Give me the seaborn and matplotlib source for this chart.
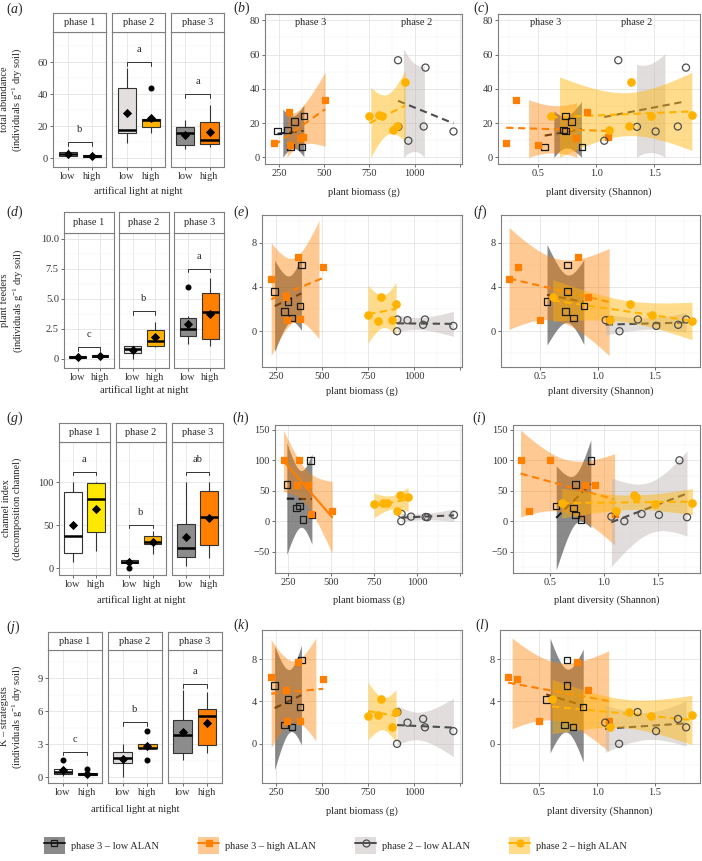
"""
ALAN x soil fauna: box plots per phase (left) and regressions on plant biomass / diversity.
"""

import numpy as np
import pandas as pd
import matplotlib
matplotlib.use("Agg")
import matplotlib.pyplot as plt
from matplotlib.lines import Line2D
from matplotlib.patches import Patch
import seaborn as sns

NA = np.nan
W, H = 702, 861

# ---------------------------------------------------------------- data
alan_levels = ["low", "high"]
phase_names = ["phase 1", "phase 2", "phase 3"]

# phase 1 : box plots only
p1_low_total = [0.8, 1.5, 2.2, 3.0, 4.6, 6.0]
p1_high_total = [0.6, 1.0, 1.4, 1.6, 2.0, 2.6]
p1_low_feeders = [0.0, 0.05, 0.1, 0.15, 0.2, 0.3]
p1_high_feeders = [0.1, 0.15, 0.2, 0.25, 0.3, 0.4]
p1_low_channel = [7, 15, 24, 52, 100, 100]
p1_high_channel = [20, 35, 64, 96, 100, 100]
p1_low_kstrat = [0.1, 0.3, 0.45, 0.5, 0.8, 1.55]
p1_high_kstrat = [0.0, 0.2, 0.25, 0.3, 0.4, 0.75]

# phase 2 / phase 3 : box plots and regressions
p2_low_biomass = [965, 908, 910, 1215, 1050, 1060]
p2_low_diversity = [1.07, 1.19, 1.35, 1.51, 1.70, 1.77]
p2_low_total = [9.7, 56.7, 17.8, 15.1, 18.0, 52.4]
p2_low_feeders = [1.0, 0.0, 1.06, 0.48, 0.58, 1.06]
p2_low_channel = [7.6, 0.0, 12.0, 10.4, 7.0, 6.6]
p2_low_channel_div = [7.6, 0.0, 12.0, 10.4, 100.0, 6.6]   # as plotted in panel (i)
p2_low_kstrat = [2.0, 0.0, 3.0, 1.2, 2.35, 1.56]

p2_high_biomass = [822, 882, 903, 948, 750, 803]
p2_high_diversity = [0.61, 1.11, 1.28, 1.30, 1.47, 1.82]
p2_high_total = [23.9, 15.8, 18.4, 44.2, 24.3, 24.6]
p2_high_feeders = [3.06, 1.06, 2.42, NA, 1.45, 0.97]
p2_high_channel = [30.6, 16.0, 43.0, 39.0, 28.0, 29.5]
p2_high_kstrat = [4.25, 1.6, 3.0, NA, 2.66, 2.7]

p3_low_biomass = [241, 296, 314, 336, 378, 387]
p3_low_diversity = [0.74, 0.72, 0.56, 0.79, 0.88, 0.74]
p3_low_total = [15.5, 16.0, 6.0, 21.0, 6.0, 24.0]
p3_low_feeders = [3.6, 1.8, 2.7, 1.2, 2.3, 6.0]
p3_low_channel = [60, 22, 25, 3, 100, 10]
p3_low_kstrat = [5.5, 1.8, 4.2, 1.6, 3.5, 7.9]

p3_high_biomass = [222, 303, 310, 367, 380, 505]
p3_high_diversity = [0.23, 0.92, 0.50, 0.83, 1.10, 0.31]
p3_high_total = [8.3, 26.3, 7.0, 11.3, 11.8, 33.6]
p3_high_feeders = [4.7, 3.06, 1.06, 6.7, 1.15, 5.8]
p3_high_channel = [100, 59, 100, 60, 11.5, 17]
p3_high_kstrat = [6.3, 5.1, 2.2, 7.75, 2.2, 6.1]

# letters of the post-hoc test and bracket heights
sig_letters = {"total": ["b", "a", "a"], "feeders": ["c", "b", "a"],
               "channel": ["a", "b", "ab"], "kstrat": ["c", "b", "a"]}
sig_heights = {"total": [10, 60, 40], "feeders": [0.95, 3.95, 7.5],
               "channel": [112, 50, 112], "kstrat": [2.33, 5.0, 8.45]}

resp_keys = ["total", "feeders", "channel", "kstrat"]

box_data = {
    "total": {"phase 1": (p1_low_total, p1_high_total), "phase 2": (p2_low_total, p2_high_total),
              "phase 3": (p3_low_total, p3_high_total)},
    "feeders": {"phase 1": (p1_low_feeders, p1_high_feeders), "phase 2": (p2_low_feeders, p2_high_feeders),
                "phase 3": (p3_low_feeders, p3_high_feeders)},
    "channel": {"phase 1": (p1_low_channel, p1_high_channel), "phase 2": (p2_low_channel, p2_high_channel),
                "phase 3": (p3_low_channel, p3_high_channel)},
    "kstrat": {"phase 1": (p1_low_kstrat, p1_high_kstrat), "phase 2": (p2_low_kstrat, p2_high_kstrat),
               "phase 3": (p3_low_kstrat, p3_high_kstrat)},
}

group_order = ["p3_low", "p3_high", "p2_low", "p2_high"]
scatter_x = {
    "biomass": {"p3_low": p3_low_biomass, "p3_high": p3_high_biomass,
                "p2_low": p2_low_biomass, "p2_high": p2_high_biomass},
    "diversity": {"p3_low": p3_low_diversity, "p3_high": p3_high_diversity,
                  "p2_low": p2_low_diversity, "p2_high": p2_high_diversity},
}
scatter_y = {
    "total": {"p3_low": p3_low_total, "p3_high": p3_high_total, "p2_low": p2_low_total, "p2_high": p2_high_total},
    "feeders": {"p3_low": p3_low_feeders, "p3_high": p3_high_feeders, "p2_low": p2_low_feeders,
                "p2_high": p2_high_feeders},
    "channel": {"p3_low": p3_low_channel, "p3_high": p3_high_channel, "p2_low": p2_low_channel,
                "p2_high": p2_high_channel},
    "kstrat": {"p3_low": p3_low_kstrat, "p3_high": p3_high_kstrat, "p2_low": p2_low_kstrat,
               "p2_high": p2_high_kstrat},
}

# ---------------------------------------------------------------- style
sns.set_theme(style="white")
plt.rcParams.update({
    "font.family": ["Liberation Serif", "DejaVu Serif"],
    "mathtext.fontset": "custom",
    "mathtext.rm": "Liberation Serif",
    "mathtext.it": "Liberation Serif:italic",
    "mathtext.bf": "Liberation Serif:bold",
    "font.size": 7.5,
    "axes.unicode_minus": True,
})

BORDER = "#7f7f7f"
FS = 7.5

box_colours = {"phase 1": ["#FFFFFF", "#FFE800"], "phase 2": ["#E4DFDF", "#FFB300"],
               "phase 3": ["#8C8C8C", "#FF7F00"]}

STYLE = {
    "p3_low": dict(marker="s", face="none", edge="#1a1a1a", line="#1a1a1a", band="#3c3c3c", alpha=0.6,
                   s=22, label="phase 3 – low ALAN"),
    "p3_high": dict(marker="s", face="#FF7F00", edge="#FF7F00", line="#FF7F00", band="#FF7F00", alpha=0.42,
                    s=22, label="phase 3 – high ALAN"),
    "p2_low": dict(marker="o", face="none", edge="#4d4d4d", line="#4d4d4d", band="#BDB4B4", alpha=0.45,
                   s=26, label="phase 2 – low ALAN"),
    "p2_high": dict(marker="o", face="#FFB300", edge="#FFB300", line="#FFB300", band="#FFB300", alpha=0.45,
                    s=28, label="phase 2 – high ALAN"),
}

# ---------------------------------------------------------------- layout (pixels)
box_left = [53.3, 64, 59, 48]
box_right = [224, 224, 223, 222]
strip_top = [13, 212, 423, 632]
strip_bot = [32, 233, 442, 650]
box_bot = [167, 368, 575, 783]
box_xlab_y = [191, 390, 600, 809]

sc_left = [(265, 498), (262, 501), (275, 513), (262, 500)]
sc_right = (462, 700)
sc_top = [14, 215, 425, 630]
sc_bot = [164, 367, 573, 783]
sc_xlab_y = [192, 391, 600, 811]

box_ylim = {"total": (-5.4, 79), "feeders": (-0.78, 10.5), "channel": (-7.8, 146.5), "kstrat": (-0.52, 11.57)}
box_yticks = {"total": ([0, 20, 40, 60], ["0", "20", "40", "60"], [10, 30, 50, 70]),
              "feeders": ([0, 2.5, 5, 7.5, 10], ["0", "2.5", "5.0", "7.5", "10.0"], [1.25, 3.75, 6.25, 8.75]),
              "channel": ([0, 50, 100], ["0", "50", "100"], [25, 75, 125]),
              "kstrat": ([0, 3, 6, 9], ["0", "3", "6", "9"], [1.5, 4.5, 7.5, 10.5])}
box_ylab = ["total abundance\n(individuals g$^{-1}$ dry soil)",
            "plant feeders\n(individuals g$^{-1}$ dry soil)",
            "channel index\n(decomposition channel)",
            "K – strategists\n(individuals g$^{-1}$ dry soil)"]

sc_ylim = {"total": (-3.9, 83.7), "feeders": (-3.23, 10.5), "channel": (-85, 158), "kstrat": (-3.7, 10.75)}
# scale limits of the original: ribbon rows outside them are dropped
sc_clip = {"total": (0, 80), "feeders": (-np.inf, 10), "channel": (-np.inf, np.inf), "kstrat": (-np.inf, 10)}
sc_yticks = {"total": ([0, 20, 40, 60, 80], [10, 30, 50, 70]),
             "feeders": ([0, 4, 8], [-2, 2, 6, 10]),
             "channel": ([-50, 0, 50, 100, 150], [-75, -25, 25, 75, 125]),
             "kstrat": ([0, 4, 8], [-2, 2, 6, 10])}
sc_xaxis = {"biomass": ((172, 1262), [250, 500, 750, 1000, 1250], ["250", "500", "750", "1000", ""],
                        [375, 625, 875, 1125], "plant biomass (g)"),
            "diversity": ((0.16, 1.89), [0.5, 1.0, 1.5], ["0.5", "1.0", "1.5"],
                          [0.25, 0.75, 1.25, 1.75], "plant diversity (Shannon)")}

letters = [["a", "b", "c"], ["d", "e", "f"], ["g", "h", "i"], ["j", "k", "l"]]
letter_pos = [[(6, 9), (233, 8.5), (473, 8.5)], [(6, 212), (233, 212), (473, 212)],
              [(6, 418), (232, 418), (472, 418)], [(6, 627), (233, 625), (475, 625)]]

solid_fits = {("channel", "biomass", "p3_high")}

fig = plt.figure(figsize=(W / 100, H / 100), dpi=100)


def px_axes(left, top, right, bottom):
    return fig.add_axes([left / W, 1 - bottom / H, (right - left) / W, (bottom - top) / H])


def px_text(x, y, s, **kw):
    kw.setdefault("ha", "center")
    kw.setdefault("va", "center")
    return fig.text(x / W, 1 - y / H, s, **kw)


def style_axes(ax):
    for sp in ax.spines.values():
        sp.set_visible(True)
        sp.set_color(BORDER)
        sp.set_linewidth(0.8)
    ax.set_axisbelow(True)
    ax.grid(which="major", color="#E4E4E4", lw=0.6)
    ax.grid(which="minor", color="#F0F0F0", lw=0.35)
    ax.tick_params(which="major", length=2.2, width=0.6, color="#555555", pad=1.5,
                   labelsize=FS, labelcolor="#333333", bottom=True, left=True)
    ax.tick_params(which="minor", length=0)


def lm_band(x, y, n=300):
    """lm fit with a 95 % confidence band, like geom_smooth(method = 'lm')."""
    x = np.asarray(x, float)
    y = np.asarray(y, float)
    ok = ~(np.isnan(x) | np.isnan(y))
    x, y = x[ok], y[ok]
    k = len(x)
    slope, icpt = np.polyfit(x, y, 1)
    xs = np.linspace(x.min(), x.max(), n)
    fit = icpt + slope * xs
    s = np.sqrt(((y - (icpt + slope * x)) ** 2).sum() / (k - 2))
    se = s * np.sqrt(1 / k + (xs - x.mean()) ** 2 / ((x - x.mean()) ** 2).sum())
    t = {3: 3.182, 4: 2.776}[k - 2]
    return xs, fit, fit - t * se, fit + t * se


# ---------------------------------------------------------------- box plots (left column)
for r, key in enumerate(resp_keys):
    L, R = box_left[r], box_right[r]
    gap = 5.7
    fw = (R - L - 2 * gap) / 3
    ylo, yhi = box_ylim[key]
    ticks, tlabels, minors = box_yticks[key]
    for j, phase in enumerate(phase_names):
        x0 = L + j * (fw + gap)
        ax = px_axes(x0, strip_bot[r], x0 + fw, box_bot[r])
        lo_vals, hi_vals = box_data[key][phase]
        df = pd.DataFrame({"alan": ["low"] * len(lo_vals) + ["high"] * len(hi_vals),
                           "value": list(lo_vals) + list(hi_vals)})
        sns.boxplot(data=df, x="alan", y="value", hue="alan", order=alan_levels, hue_order=alan_levels,
                    palette=box_colours[phase], saturation=1, legend=False, width=0.75, whis=1.5,
                    showcaps=False, linecolor="#333333", linewidth=0.8,
                    flierprops=dict(marker="o", markerfacecolor="black", markeredgecolor="black",
                                    markersize=3.3),
                    medianprops=dict(color="black", linewidth=1.8), ax=ax)
        means = df.groupby("alan")["value"].mean().reindex(alan_levels)
        ax.scatter([0, 1], means.values, marker="D", s=22, color="black", zorder=6, lw=0)

        # bracket + letter
        yb = sig_heights[key][j]
        d = 3.3 / (box_bot[r] - strip_bot[r]) * (yhi - ylo)
        ax.plot([0, 0, 1, 1], [yb - d, yb, yb, yb - d], color="#333333", lw=0.7, zorder=5)
        ax.annotate(sig_letters[key][j], xy=(0.5, yb), xytext=(0, 9), textcoords="offset points",
                    ha="center", va="center", fontsize=FS)

        ax.set_xlim(-0.6, 1.6)
        ax.set_ylim(ylo, yhi)
        ax.set_xticks([0, 1])
        ax.set_xticklabels(alan_levels)
        ax.set_yticks(ticks)
        ax.set_yticks(minors, minor=True)
        ax.set_xlabel("")
        ax.set_ylabel("")
        style_axes(ax)
        if j == 0:
            ax.set_yticklabels(tlabels)
        else:
            ax.set_yticklabels([])
            ax.tick_params(axis="y", length=0)

        st = px_axes(x0, strip_top[r], x0 + fw, strip_bot[r])
        st.set_facecolor("white")
        st.set_xticks([])
        st.set_yticks([])
        for sp in st.spines.values():
            sp.set_visible(True)
            sp.set_color(BORDER)
            sp.set_linewidth(0.8)
        st.text(0.5, 0.5, phase, ha="center", va="center", fontsize=FS, transform=st.transAxes)

    px_text((L + R) / 2, box_xlab_y[r], "artifical light at night", fontsize=FS)
    px_text(12, (strip_bot[r] + box_bot[r]) / 2, box_ylab[r], rotation=90, fontsize=FS,
            linespacing=1.15)

# ---------------------------------------------------------------- regressions (middle / right)
for r, key in enumerate(resp_keys):
    cl_lo, cl_hi = sc_clip[key]
    for c, xname in enumerate(["biomass", "diversity"]):
        ax = px_axes(sc_left[r][c], sc_top[r], sc_right[c], sc_bot[r])
        (xlo, xhi), xt, xtl, xmin, xlab = sc_xaxis[xname]
        z = 2
        for g in group_order:
            st = STYLE[g]
            xv = scatter_x[xname][g]
            yv = scatter_y[key][g]
            if key == "channel" and xname == "diversity" and g == "p2_low":
                yv = p2_low_channel_div
            xs, fit, lo, hi = lm_band(xv, yv)
            keep = (lo >= cl_lo) & (hi <= cl_hi)
            ax.fill_between(xs, lo, hi, where=keep, color=st["band"], alpha=st["alpha"], lw=0, zorder=z)
            ls = "-" if (key, xname, g) in solid_fits else (0, (3.5, 2.2))
            ax.plot(xs, fit, color=st["line"], lw=1.5, linestyle=ls, zorder=z + 0.5)
            z += 1
        for g in group_order:
            st = STYLE[g]
            xv = np.asarray(scatter_x[xname][g], float)
            yv = scatter_y[key][g]
            if key == "channel" and xname == "diversity" and g == "p2_low":
                yv = p2_low_channel_div
            yv = np.asarray(yv, float)
            ax.scatter(xv, yv, marker=st["marker"], s=st["s"], facecolors=st["face"],
                       edgecolors=st["edge"], linewidths=0.9, zorder=10)

        ax.set_xlim(xlo, xhi)
        ax.set_ylim(*sc_ylim[key])
        ax.set_xticks(xt)
        ax.set_xticklabels(xtl)
        ax.set_xticks(xmin, minor=True)
        ax.set_yticks(sc_yticks[key][0])
        ax.set_yticks(sc_yticks[key][1], minor=True)
        style_axes(ax)
        px_text((sc_left[r][c] + sc_right[c]) / 2, sc_xlab_y[r], xlab, fontsize=FS)

        if r == 0:
            if xname == "biomass":
                ax.text(425, 78.6, "phase 3", ha="center", va="center", fontsize=FS)
                ax.text(1013, 78.6, "phase 2", ha="center", va="center", fontsize=FS)
            else:
                ax.text(0.566, 78.6, "phase 3", ha="center", va="center", fontsize=FS)
                ax.text(1.345, 78.6, "phase 2", ha="center", va="center", fontsize=FS)

# ---------------------------------------------------------------- panel letters
for r in range(4):
    for c in range(3):
        x, y = letter_pos[r][c]
        px_text(x, y, "($" + letters[r][c] + "$)", ha="left", fontsize=10)

# ---------------------------------------------------------------- legend
handles, labels = [], []
for g in group_order:
    st = STYLE[g]
    patch = Patch(facecolor=st["band"], alpha=st["alpha"], edgecolor="none")
    line = Line2D([], [], color=st["line"], lw=1.4, marker=st["marker"], markersize=5,
                  markerfacecolor=st["face"], markeredgecolor=st["edge"], markeredgewidth=0.9)
    handles.append((patch, line))
    labels.append(st["label"])
fig.legend(handles, labels, loc="center left", bbox_to_anchor=(44 / W, 1 - 845.5 / H), ncol=4,
           frameon=False, handlelength=2.0, handleheight=2.0, handletextpad=0.55,
           columnspacing=3.8, borderpad=0, borderaxespad=0, fontsize=FS)

fig.savefig("out.png", dpi=100)
